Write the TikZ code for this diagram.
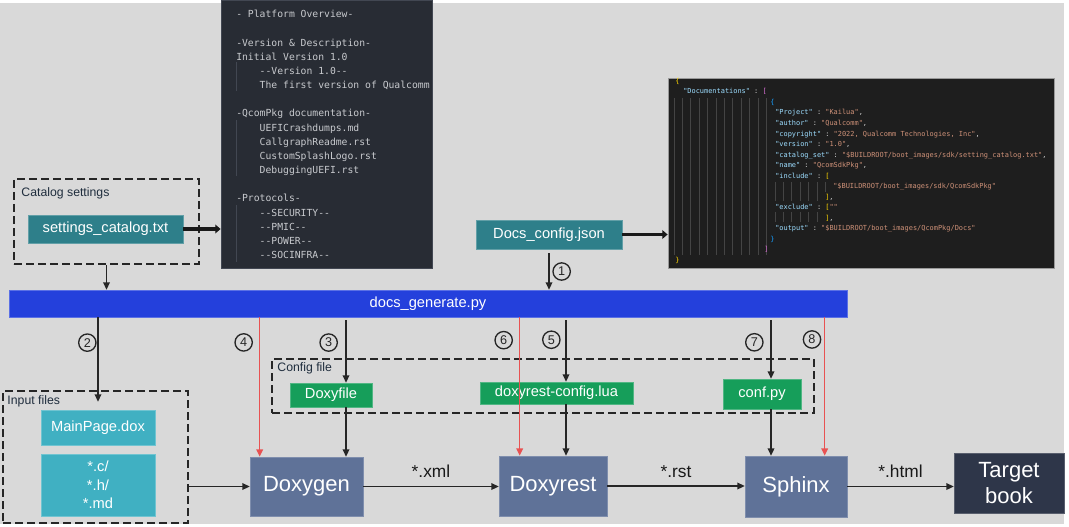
\documentclass[tikz,border=0pt]{standalone}
\usepackage{fontspec}
\setmainfont{Liberation Sans}
\setmonofont{DejaVu Sans Mono}
\usetikzlibrary{arrows.meta,calc}

\definecolor{bggray}{RGB}{217,217,217}
\definecolor{tealbox}{RGB}{46,127,138}
\definecolor{lightteal}{RGB}{64,176,194}
\definecolor{cfggreen}{RGB}{22,158,90}
\definecolor{toolblue}{RGB}{95,114,152}
\definecolor{genblue}{RGB}{36,64,220}
\definecolor{bookdark}{RGB}{46,54,73}
\definecolor{redline}{RGB}{232,82,82}
\definecolor{labeltext}{RGB}{31,45,61}
\definecolor{ovbg}{RGB}{40,44,52}
\definecolor{ovtext}{RGB}{200,202,206}
\definecolor{ovguide}{RGB}{66,71,82}
\definecolor{jsonbg}{RGB}{30,30,30}
\definecolor{jguide}{RGB}{68,68,68}
\definecolor{jkey}{RGB}{156,220,254}
\definecolor{jstr}{RGB}{206,145,120}
\definecolor{jgold}{RGB}{255,215,0}
\definecolor{jmag}{RGB}{218,112,214}
\definecolor{jblue}{RGB}{23,159,255}
\definecolor{jpun}{RGB}{212,212,212}

\newcommand\jk[1]{\textcolor{jkey}{#1}}
\newcommand\js[1]{\textcolor{jstr}{#1}}
\newcommand\jg[1]{\textcolor{jgold}{#1}}
\newcommand\jm[1]{\textcolor{jmag}{#1}}
\newcommand\jb[1]{\textcolor{jblue}{#1}}
\newcommand\ind{\hspace*{2.408em}}

\begin{document}
\begin{tikzpicture}[x=0.75pt,y=-0.75pt,
    sz/.style 2 args={minimum width=#1*0.75pt,minimum height=#2*0.75pt},
    panel/.style={rectangle,inner sep=0pt,line width=0.6pt},
    ovcode/.style={inner sep=0pt,align=left,text=ovtext,font=\ttfamily\fontsize{7.3}{10.63}\selectfont},
    jscode/.style={inner sep=0pt,align=left,text=jpun,font=\ttfamily\fontsize{5.2}{7.9}\selectfont},
    filebox/.style={rectangle,inner sep=0pt,text=white,fill=#1,draw=#1!75!white,line width=0.5pt,font=\fontsize{11}{13.9}\selectfont},
    toolbox/.style={rectangle,inner sep=0pt,text=white,fill=#1,draw=#1!80!white,line width=0.5pt,font=\fontsize{16.5}{20}\selectfont},
    toolbox/.default=toolblue,
    genbar/.style={rectangle,inner sep=0pt,text=white,fill=genblue,draw=genblue!75!white,line width=0.5pt,font=\fontsize{11}{13}\selectfont},
    grpbox/.style={rectangle,draw=black!85,line width=1.2pt,dash pattern=on 6pt off 3pt},
    grplabel/.style={inner sep=0pt,text=labeltext,font=\fontsize{9.2}{11}\selectfont},
    numc/.style={circle,draw=black!85,line width=1pt,inner sep=0pt,minimum size=13pt,text=black!85,font=\fontsize{9.5}{10}\selectfont},
    edgelbl/.style={inner sep=0pt,text=black!90,font=\fontsize{13}{15}\selectfont},
    arr/.style={draw=black!85,line width=1.1pt,-{Triangle[length=5.5pt,width=5pt]}},
    fatarr/.style={draw=black!90,line width=2.3pt,-{Triangle[length=4pt,width=6.5pt]}},
    redarr/.style={draw=redline,line width=1.1pt,-{Triangle[length=5.5pt,width=5pt]}}]
  \useasboundingbox (0,0) rectangle (1069,527);
  \fill[bggray] (0,3) rectangle (1064,524);

  % code panels
  \node[panel,fill=ovbg,draw=ovguide,sz={211}{268}] (ovw) at (326.5,134) {};
  \draw[ovguide,line width=0.6pt] (236,62) -- (236,91) (236,120) -- (236,176) (236,205) -- (236,262);
  \node[ovcode,anchor=north west] (ovtxt) at (236,10) {- Platform Overview-\\ \mbox{}\\
    -Version \& Description-\\ Initial Version 1.0\\ \ind--Version 1.0--\\
    \ind The first version of Qualcomm\\ \mbox{}\\ -QcomPkg documentation-\\
    \ind UEFICrashdumps.md\\ \ind CallgraphReadme.rst\\ \ind CustomSplashLogo.rst\\
    \ind DebuggingUEFI.rst\\ \mbox{}\\ -Protocols-\\ \ind--SECURITY--\\
    \ind--PMIC--\\ \ind--POWER--\\ \ind--SOCINFRA--};

  \node[panel,fill=jsonbg,draw=black!40,sz={386}{190}] (json) at (861,173) {};
  \foreach \k in {0,...,11}
    \draw[jguide,line width=0.5pt] (674+8.4*\k,98) -- (674+8.4*\k,255);
  \foreach \k in {0,...,5}
    \draw[jguide,line width=0.5pt] (775+8.4*\k,182) -- (775+8.4*\k,201) (775+8.4*\k,212) -- (775+8.4*\k,222);
  \draw[jguide,line width=0.5pt] (825.4,182) -- (825.4,192);
  \node[jscode,anchor=north west] (jstxt) at (675,77.8) {\jg{\{}\\
    \hspace*{6pt}\jk{"Documentations"} : \jm{[}\\
    \hspace*{71.25pt}\jb{\{}\\
    \hspace*{75pt}\jk{"Project"} : \js{"Kailua"},\\
    \hspace*{75pt}\jk{"author"} : \js{"Qualcomm"},\\
    \hspace*{75pt}\jk{"copyright"} : \js{"2022, Qualcomm Technologies, Inc"},\\
    \hspace*{75pt}\jk{"version"} : \js{"1.0"},\\
    \hspace*{75pt}\jk{"catalog\_set"} : \js{"\$BUILDROOT/boot\_images/sdk/setting\_catalog.txt"},\\
    \hspace*{75pt}\jk{"name"} : \js{"QcomSdkPkg"},\\
    \hspace*{75pt}\jk{"include"} : \jg{[}\\
    \hspace*{118.5pt}\js{"\$BUILDROOT/boot\_images/sdk/QcomSdkPkg"}\\
    \hspace*{112.5pt}\jg{]},\\
    \hspace*{75pt}\jk{"exclude"} : \jg{[}\js{""}\\
    \hspace*{112.5pt}\jg{]},\\
    \hspace*{75pt}\jk{"output"} : \js{"\$BUILDROOT/boot\_images/QcomPkg/Docs"}\\
    \hspace*{71.25pt}\jb{\}}\\
    \hspace*{66.75pt}\jm{]}\\
    \jg{\}}};

  % groups and boxes
  \node[grpbox,sz={185}{85}] (catgrp) at (106.5,221.5) {};
  \node[grplabel,anchor=west] at ($(catgrp.north west)+(8,15)$) {Catalog settings};
  \node[filebox=tealbox,sz={155}{28}] (settings) at (105.5,229) {settings\_catalog.txt};
  \node[filebox=tealbox,sz={146}{29}] (docscfg) at (549,234.5) {Docs\_config.json};
  \node[genbar,sz={838}{27}] (gen) at (428,303.5) {docs\_generate.py};

  \node[grpbox,sz={185}{132}] (inputgrp) at (95.5,457) {};
  \node[grplabel,anchor=west] at ($(inputgrp.north west)+(5,11)$) {Input files};
  \node[filebox=lightteal,sz={114}{35}] (mainpage) at (98,427.5) {MainPage.dox};
  \node[filebox=lightteal,sz={114}{62},align=center] (srcs) at (98,485) {*.c/\\*.h/\\*.md};

  \node[grpbox,sz={542}{54}] (cfggrp) at (543,386) {};
  \node[grplabel,anchor=west] at ($(cfggrp.north west)+(6,10)$) {Config file};
  \node[filebox=cfggreen,sz={82}{24}] (doxyfile) at (331,395) {Doxyfile};
  \node[filebox=cfggreen,sz={153}{22}] (luacfg) at (556.5,393) {doxyrest-config.lua};
  \node[filebox=cfggreen,sz={78}{30}] (confpy) at (762,394) {conf.py};

  \node[toolbox,sz={113}{59}] (doxygen) at (306.5,486.5) {Doxygen};
  \node[toolbox,sz={108}{60}] (doxyrest) at (553,486) {Doxyrest};
  \node[toolbox,sz={102}{61}] (sphinx) at (796,486.5) {Sphinx};
  \node[toolbox=bookdark,sz={110}{60},align=center] (book) at (1009,483) {Target\\book};

  \coordinate (a3) at ($(doxyfile.north)+(15,0)$);
  \coordinate (r4) at ($(doxygen.north west)+(10,0)$);
  \coordinate (a5) at ($(luacfg.north)+(9.5,0)$);
  \coordinate (r6) at ($(doxyrest.north west)+(21,0)$);
  \coordinate (a7) at ($(confpy.north)+(9,0)$);
  \coordinate (r8) at ($(sphinx.north west)+(80,0)$);

  % connectors
  \draw[fatarr] (settings.east) -- (settings.east -| ovw.west);
  \draw[fatarr] (docscfg.east) -- (docscfg.east -| json.west);
  \draw[arr] (catgrp.south) -- (catgrp.south |- gen.north);
  \draw[arr] ([yshift=-3pt]docscfg.south) -- (docscfg.south |- gen.north) node[numc,midway,right=2.5pt] {1};
  \draw[arr] (gen.south -| mainpage.north) -- ($(mainpage.north)+(0,-8)$) node[numc,pos=0.3,left=1pt] {2};
  \draw[arr] ([yshift=-2pt]gen.south -| a3) -- (a3) node[numc,pos=0.36,left=6pt] {3};
  \draw[redarr] (gen.south -| r4) -- (r4) node[numc,pos=0.18,left=5pt] {4};
  \draw[arr] ([yshift=-2pt]gen.south -| a5) -- (a5) node[numc,pos=0.32,left=4pt] {5};
  \draw[redarr] (gen.south -| r6) -- (r6) node[numc,pos=0.165,left=5pt] {6};
  \draw[arr] ([yshift=-2pt]gen.south -| a7) -- (a7) node[numc,pos=0.38,left=5.5pt] {7};
  \draw[redarr] (gen.south -| r8) -- (r8) node[numc,pos=0.16,left=2.5pt] {8};
  \draw[arr] (doxyfile.south -| a3) -- (doxygen.north -| a3);
  \draw[arr] (luacfg.south -| a5) -- (doxyrest.north -| a5);
  \draw[arr] (confpy.south -| a7) -- (sphinx.north -| a7);
  \draw[arr] (inputgrp.east |- doxygen) -- (doxygen.west);
  \draw[arr] (doxygen.east) -- (doxygen.east -| doxyrest.west) node[edgelbl,midway,above=6pt] {*.xml};
  \draw[arr] (doxyrest.east) -- (doxyrest.east -| sphinx.west) node[edgelbl,midway,above=6pt] {*.rst};
  \draw[arr] (sphinx.east) -- (sphinx.east -| book.west) node[edgelbl,midway,above=6pt] {*.html};
\end{tikzpicture}
\end{document}
